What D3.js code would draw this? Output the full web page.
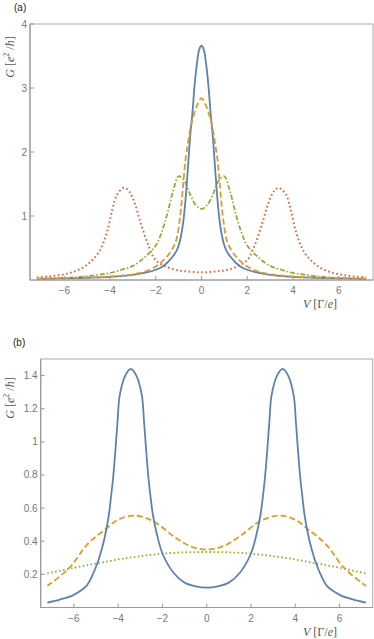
<!DOCTYPE html>
<html>
<head>
<meta charset="utf-8">
<script src="https://cdn.jsdelivr.net/npm/d3@7"></script>
<style>
  body { margin: 0; background: #fff; }
  svg { display: block; }
  .tick-label { font-family: "Liberation Sans", Arial, sans-serif; font-size: 10px; fill: #777; }
  .axis-label { font-family: "Liberation Serif", "DejaVu Serif", serif; font-size: 12px; fill: #555; }
  .panel-tag { font-family: "Liberation Sans", Arial, sans-serif; font-size: 10px; fill: #222; }
</style>
</head>
<body>
<svg id="drawing_region" width="374" height="639"></svg>
<script>
// ---- panel (a) data ----
const aBlueV = [-7.2,-6,-5,-4,-3,-2.5,-2,-1.75,-1.5,-1.25,-1.1,-1,-0.9,-0.8,-0.7,-0.6,-0.5,-0.4,-0.3,-0.2,-0.1,0,0.1,0.2,0.3,0.4,0.5,0.6,0.7,0.8,0.9,1,1.1,1.25,1.5,1.75,2,2.5,3,4,5,6,7.2];
const aBlueG = [0.015,0.025,0.035,0.05,0.08,0.11,0.16,0.2,0.27,0.37,0.45,0.54,0.68,0.9,1.25,1.72,2.22,2.6,3.05,3.38,3.6,3.66,3.6,3.38,3.05,2.6,2.22,1.72,1.25,0.9,0.68,0.54,0.45,0.37,0.27,0.2,0.16,0.11,0.08,0.05,0.035,0.025,0.015];

const aOrangeV = [-7.2,-6,-5,-4,-3,-2.5,-2,-1.75,-1.5,-1.25,-1.1,-1,-0.9,-0.8,-0.7,-0.6,-0.5,-0.4,-0.2,0,0.2,0.4,0.5,0.6,0.7,0.8,0.9,1,1.1,1.25,1.5,1.75,2,2.5,3,4,5,6,7.2];
const aOrangeG = [0.02,0.03,0.04,0.055,0.09,0.13,0.21,0.28,0.37,0.5,0.63,0.82,1.1,1.5,1.88,2.12,2.35,2.5,2.72,2.84,2.72,2.5,2.35,2.12,1.88,1.5,1.1,0.82,0.63,0.5,0.37,0.28,0.21,0.13,0.09,0.055,0.04,0.03,0.02];

const aGreenV = [-7.2,-6,-5,-4,-3.5,-3,-2.5,-2,-1.75,-1.5,-1.25,-1,-0.75,-0.5,-0.25,0,0.25,0.5,0.75,1,1.25,1.5,1.75,2,2.5,3,3.5,4,5,6,7.2];
const aGreenG = [0.02,0.03,0.06,0.11,0.16,0.22,0.35,0.54,0.74,1.03,1.38,1.62,1.55,1.34,1.17,1.11,1.17,1.34,1.55,1.62,1.38,1.03,0.74,0.54,0.35,0.22,0.16,0.11,0.06,0.03,0.02];

const aRedV = [-7.2,-6.6,-6,-5.5,-5,-4.5,-4.15,-3.9,-3.7,-3.4,-3.25,-3.1,-2.9,-2.65,-2.3,-2,-1.5,-1,-0.5,0,0.5,1,1.5,2,2.3,2.65,2.9,3.1,3.25,3.4,3.7,3.9,4.15,4.5,5,5.5,6,6.6,7.2];
const aRedG = [0.04,0.06,0.09,0.14,0.24,0.43,0.73,1.1,1.33,1.44,1.42,1.35,1.18,0.88,0.52,0.31,0.2,0.15,0.13,0.12,0.13,0.15,0.2,0.31,0.52,0.88,1.18,1.35,1.42,1.44,1.33,1.1,0.73,0.43,0.24,0.14,0.09,0.06,0.04];

// ---- panel (b) data ----
const bBlueV = [-7.2,-6.63,-6.03,-5.43,-5.18,-4.88,-4.63,-4.43,-4.33,-4.23,-4.13,-4.03,-3.93,-3.68,-3.43,-3.18,-2.93,-2.83,-2.73,-2.63,-2.53,-2.43,-2.23,-1.98,-1.5,-1,-0.5,0,0.5,1,1.5,1.98,2.23,2.43,2.53,2.63,2.73,2.83,2.93,3.18,3.43,3.68,3.93,4.03,4.13,4.23,4.33,4.43,4.63,4.88,5.18,5.43,6.03,6.63,7.2];
const bBlueG = [0.03,0.048,0.075,0.13,0.19,0.29,0.41,0.55,0.66,0.78,0.94,1.12,1.28,1.4,1.44,1.4,1.28,1.12,0.94,0.78,0.66,0.56,0.43,0.32,0.21,0.15,0.128,0.12,0.128,0.15,0.21,0.32,0.43,0.56,0.66,0.78,0.94,1.12,1.28,1.4,1.44,1.4,1.28,1.12,0.94,0.78,0.66,0.55,0.41,0.29,0.19,0.13,0.075,0.048,0.03];

const bOrangeV = [-7.2,-6.2,-5.4,-4.6,-4,-3.27,-2.4,-1.5,-0.75,0,0.75,1.5,2.4,3.27,4,4.6,5.4,6.2,7.2];
const bOrangeG = [0.13,0.24,0.38,0.47,0.53,0.555,0.52,0.43,0.37,0.35,0.37,0.43,0.52,0.555,0.53,0.47,0.38,0.24,0.13];

const bGreenV = [-7.2,-6,-5,-4,-3,-2,-1,0,1,2,3,4,5,6,7.2];
const bGreenG = [0.205,0.24,0.265,0.29,0.31,0.325,0.333,0.335,0.333,0.325,0.31,0.29,0.265,0.24,0.205];

const xTicks = [-6,-4,-2,0,2,4,6];
const aYTicks = [1,2,3,4];
const bYTicks = [0.2,0.4,0.6,0.8,1,1.2,1.4];

const colBlue = "#5e81b5", colOrange = "#e19c24", colGreen = "#8fb032", colRed = "#eb6235";

const svg = d3.select("#drawing_region");

function fmt(v) {
    return v < 0 ? "\u2212" + Math.abs(v) : String(v);
}

function panel(opt) {
    const x = d3.scaleLinear().domain([-7.5, 7.5]).range([opt.left, opt.right]);
    const y = d3.scaleLinear().domain(opt.yDomain).range([opt.bottom, opt.top]);
    const g = svg.append("g");

    // series
    const line = d3.line().x(d => x(d[0])).y(d => y(d[1])).curve(d3.curveCatmullRom.alpha(0.5));
    opt.series.forEach(s => {
        g.append("path")
            .datum(d3.zip(s.v, s.g))
            .attr("d", line)
            .attr("fill", "none")
            .attr("stroke", s.color)
            .attr("stroke-width", s.width || 1.8)
            .attr("stroke-dasharray", s.dash || null);
    });

    // frame
    g.append("rect")
        .attr("x", opt.left).attr("y", opt.top)
        .attr("width", opt.right - opt.left).attr("height", opt.bottom - opt.top)
        .attr("fill", "none").attr("stroke", "#aaa").attr("stroke-width", 1);
    g.append("line").attr("x1", opt.left).attr("x2", opt.left).attr("y1", opt.top).attr("y2", opt.bottom)
        .attr("stroke", "#999").attr("stroke-width", 1.2);
    g.append("line").attr("x1", opt.left).attr("x2", opt.right).attr("y1", opt.bottom).attr("y2", opt.bottom)
        .attr("stroke", "#999").attr("stroke-width", 1.2);

    // x ticks
    xTicks.forEach(t => {
        g.append("line").attr("x1", x(t)).attr("x2", x(t)).attr("y1", opt.bottom).attr("y2", opt.bottom - 4)
            .attr("stroke", "#999");
        g.append("text").attr("class", "tick-label")
            .attr("x", x(t)).attr("y", opt.bottom + 14)
            .attr("text-anchor", "middle").text(fmt(t));
    });
    // y ticks
    opt.yTicks.forEach(t => {
        g.append("line").attr("x1", opt.left).attr("x2", opt.left + 4).attr("y1", y(t)).attr("y2", y(t))
            .attr("stroke", "#999");
        g.append("text").attr("class", "tick-label")
            .attr("x", opt.left - 3).attr("y", y(t) + 3.5)
            .attr("text-anchor", "end").text(t);
    });

    // x label
    const xl = g.append("text").attr("class", "axis-label")
        .attr("x", 320).attr("y", opt.bottom + 28).attr("text-anchor", "middle");
    xl.append("tspan").attr("font-style", "italic").text("V");
    xl.append("tspan").text(" [\u0393/");
    xl.append("tspan").attr("font-style", "italic").text("e");
    xl.append("tspan").text("]");

    // y label
    const yl = g.append("text").attr("class", "axis-label")
        .attr("transform", `translate(14,${opt.yLabelY}) rotate(-90)`)
        .attr("text-anchor", "middle");
    yl.append("tspan").attr("font-style", "italic").text("G");
    yl.append("tspan").text(" [");
    yl.append("tspan").attr("font-style", "italic").text("e");
    yl.append("tspan").attr("font-size", "8px").attr("dy", -5).text("2");
    yl.append("tspan").attr("dy", 5).text(" /");
    yl.append("tspan").attr("font-style", "italic").text("\u0127");
    yl.append("tspan").text("]");

    g.append("text").attr("class", "panel-tag")
        .attr("x", opt.tagX).attr("y", opt.tagY).text(opt.tag);
}

panel({
    left: 30, right: 373, top: 24, bottom: 280, yDomain: [0, 4], yTicks: aYTicks,
    yLabelY: 57, tag: "(a)", tagX: 14, tagY: 11,
    series: [
        { v: aRedV, g: aRedG, color: colRed, dash: "1.6 2.6", width: 2 },
        { v: aGreenV, g: aGreenG, color: colGreen, dash: "5 2 1.5 2", width: 1.8 },
        { v: aBlueV, g: aBlueG, color: colBlue, width: 1.8 },
        { v: aOrangeV, g: aOrangeG, color: colOrange, dash: "6 3", width: 1.8 }
    ]
});

panel({
    left: 40.7, right: 372.7, top: 359, bottom: 607.5, yDomain: [0, 1.5], yTicks: bYTicks,
    yLabelY: 398, tag: "(b)", tagX: 13, tagY: 346,
    series: [
        { v: bGreenV, g: bGreenG, color: colGreen, dash: "1.6 2.4", width: 1.8 },
        { v: bOrangeV, g: bOrangeG, color: colOrange, dash: "6 3", width: 1.8 },
        { v: bBlueV, g: bBlueG, color: colBlue, width: 1.8 }
    ]
});
</script>
</body>
</html>
